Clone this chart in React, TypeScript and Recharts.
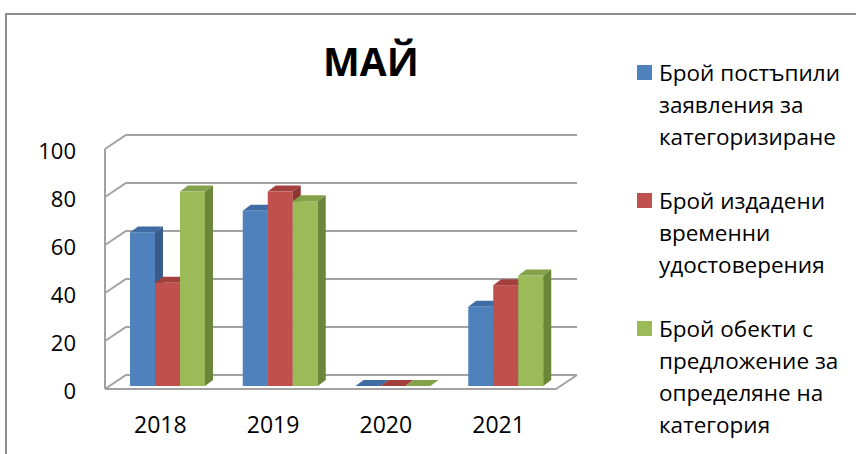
import { BarChart, Bar, XAxis, YAxis, CartesianGrid, Legend } from "recharts";

const categories = ["2018", "2019", "2020", "2021"];
const applications = [64, 73, 0, 33];
const certificates = [43, 81, 0, 42];
const proposals = [81, 77, 0, 46];
const yTicks = [0, 20, 40, 60, 80, 100];

const seriesNames = [
  "Брой постъпили\nзаявления за\nкатегоризиране",
  "Брой издадени\nвременни\nудостоверения",
  "Брой обекти с\nпредложение за\nопределяне на\nкатегория",
];

const data = categories.map((year, i) => ({
  year,
  applications: applications[i],
  certificates: certificates[i],
  proposals: proposals[i],
}));

const FONT = "'Open Sans', 'Noto Sans', sans-serif";
const DX = 8;
const DY = 6;

const palette = [
  { front: "#4F81BD", top: "#3F6CA3", side: "#375C89" },
  { front: "#C0504D", top: "#A3403D", side: "#8C3734" },
  { front: "#9BBB59", top: "#83A24A", side: "#6B8638" },
];

function bar3D(colors: { front: string; top: string; side: string }) {
  return (p: any) => {
    const { x, y, width: w, height: h } = p;
    return (
      <g>
        <rect x={x} y={y} width={w} height={h} fill={colors.front} />
        <polygon
          points={`${x},${y} ${x + w},${y} ${x + w + DX},${y - DY} ${x + DX},${y - DY}`}
          fill={colors.top}
        />
        <polygon
          points={`${x + w},${y} ${x + w + DX},${y - DY} ${x + w + DX},${y + h - DY} ${x + w},${y + h}`}
          fill={colors.side}
        />
      </g>
    );
  };
}

// 3D wall gridline: front edge -> back wall
function gridLine(p: any) {
  const { x, y, width, height, y1 } = p;
  const left = x;
  const right = x + width;
  const fx = left - 6;
  const fy = y1 + 3;
  const bx = left + 15;
  const by = y1 - 11;
  const stroke = "#a2a2a2";
  return (
    <g key={p.key}>
      <polyline points={`${fx},${fy} ${bx},${by} ${right + 15},${by}`} fill="none" stroke={stroke} strokeWidth={2} />
      {Math.abs(y1 - (y + height)) < 0.5 && (
        <>
          <polyline
            points={`${fx},${fy} ${right - 6},${fy} ${right + 15},${by}`}
            fill="none"
            stroke={stroke}
            strokeWidth={2}
          />
          <line x1={fx} y1={y + 3} x2={fx} y2={fy} stroke={stroke} strokeWidth={2} />
        </>
      )}
    </g>
  );
}

function YTick(p: any) {
  const { y, payload } = p;
  return (
    <text x={76} y={y + 13} textAnchor="end" fontFamily={FONT} fontSize={22} fill="#000">
      {payload.value}
    </text>
  );
}

function XTick(p: any) {
  const { x, payload } = p;
  return (
    <text x={x - 7} y={433} textAnchor="middle" fontFamily={FONT} fontSize={23} fill="#000">
      {payload.value}
    </text>
  );
}

function LegendContent() {
  return (
    <div style={{ fontFamily: FONT, fontSize: 22.5, lineHeight: "32px", color: "#000" }}>
      {seriesNames.map((name, i) => (
        <div key={name} style={{ display: "flex", alignItems: "flex-start", marginBottom: 32 }}>
          <div
            style={{
              width: 15,
              height: 15,
              background: palette[i].front,
              marginTop: 8,
              marginRight: 7,
              flexShrink: 0,
            }}
          />
          <div style={{ whiteSpace: "pre-line" }}>{name}</div>
        </div>
      ))}
    </div>
  );
}

export default function App() {
  return (
    <div
      style={{
        position: "absolute",
        left: 0,
        top: 0,
        width: 856,
        height: 454,
        overflow: "hidden",
        background: "#fff",
      }}
    >
      <div
        style={{
          position: "absolute",
          left: 5,
          top: 13,
          width: 1000,
          height: 1000,
          borderLeft: "2px solid #8c8c8c",
          borderTop: "2px solid #8c8c8c",
        }}
      />
      <div
        style={{
          position: "absolute",
          left: 271,
          top: 33,
          width: 200,
          textAlign: "center",
          fontFamily: FONT,
          fontWeight: 700,
          fontSize: 39,
          lineHeight: "56px",
        }}
      >
        МАЙ
      </div>
      <div style={{ position: "absolute", left: 0, top: 0 }}>
        <BarChart
          width={856}
          height={454}
          data={data}
          margin={{ top: 146, right: 294, bottom: 38, left: 51 }}
          barGap={0}
          barSize={25}
        >
          <CartesianGrid horizontal={gridLine} vertical={false} />
          <XAxis dataKey="year" height={30} axisLine={false} tickLine={false} tick={<XTick />} />
          <YAxis
            width={60}
            domain={[0, 100]}
            ticks={yTicks}
            axisLine={false}
            tickLine={false}
            tick={<YTick />}
          />
          <Legend
            layout="horizontal"
            align="center"
            verticalAlign="middle"
            content={<LegendContent />}
            wrapperStyle={{ position: "absolute", left: 637, top: 57, width: 219 }}
          />
          <Bar dataKey="applications" name={seriesNames[0]} shape={bar3D(palette[0])} isAnimationActive={false} />
          <Bar dataKey="certificates" name={seriesNames[1]} shape={bar3D(palette[1])} isAnimationActive={false} />
          <Bar dataKey="proposals" name={seriesNames[2]} shape={bar3D(palette[2])} isAnimationActive={false} />
        </BarChart>
      </div>
    </div>
  );
}
